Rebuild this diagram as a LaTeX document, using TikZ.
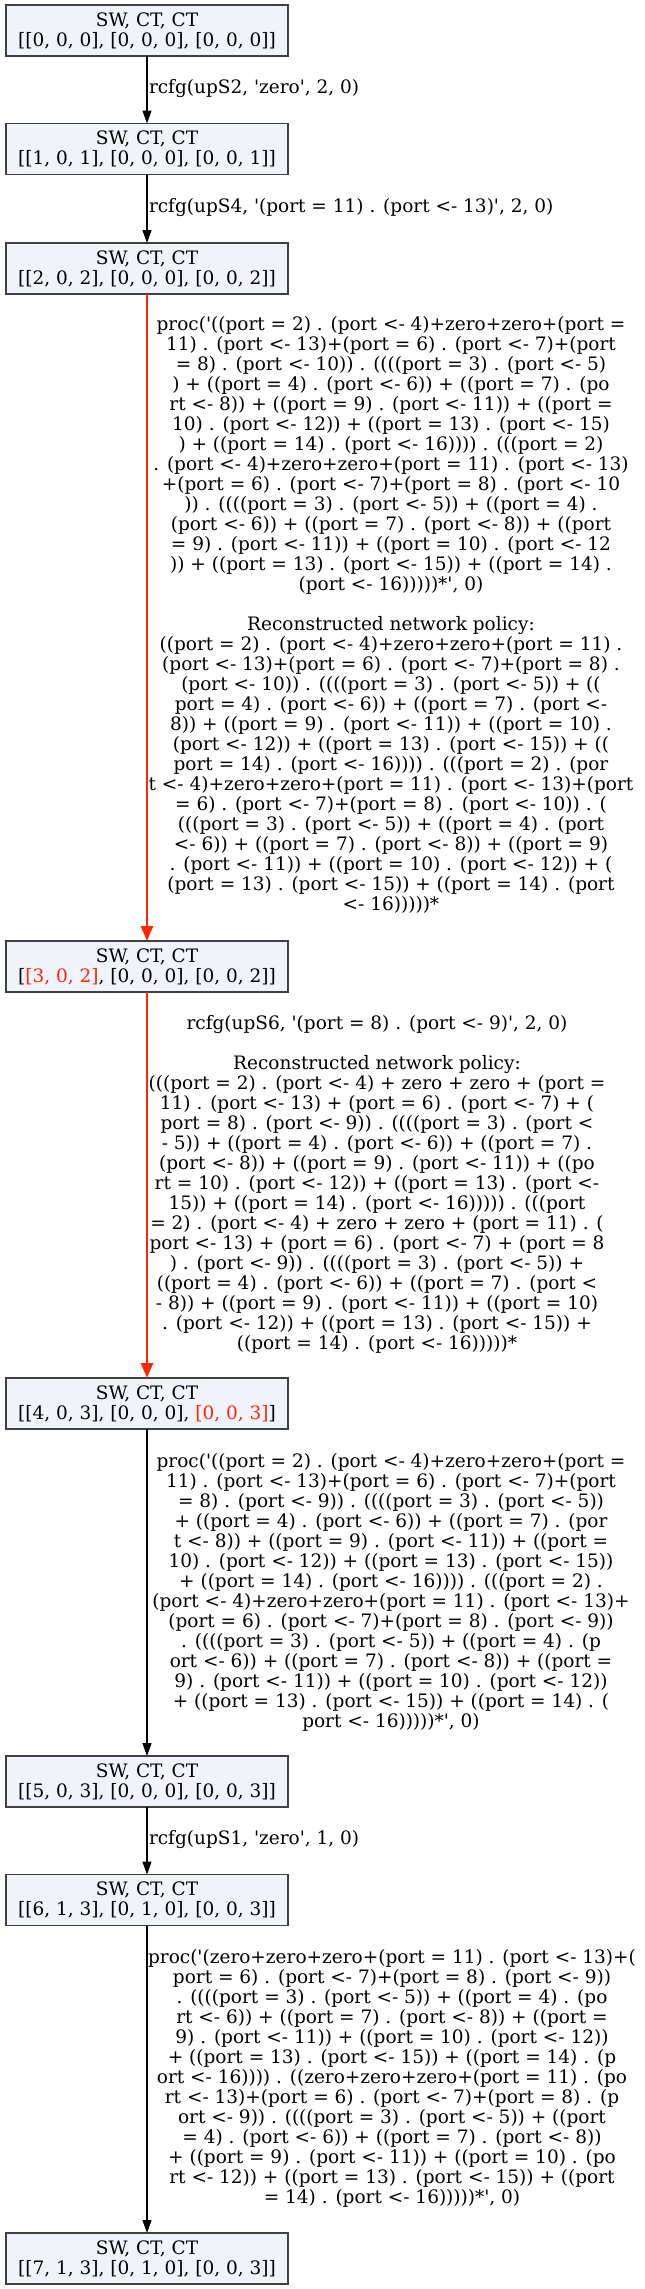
\documentclass[tikz,border=0pt]{standalone}
\usepackage{fontspec}
\newfontfamily\gv{DejaVu Serif}
\usetikzlibrary{arrows.meta}
\definecolor{hl}{RGB}{255,38,8}
\definecolor{nodefill}{RGB}{240,243,250}
\definecolor{nodeline}{RGB}{64,64,64}
\tikzset{
  x=1pt, y=1pt,
  every node/.style={font=\gv\fontsize{18.5}{20}\selectfont, inner sep=0pt, outer sep=0pt},
  state/.style={draw=nodeline, line width=1.3pt, fill=nodefill, minimum width=282pt, minimum height=51pt, align=center},
  lbl/.style={align=center},
  plainedge/.style={draw=black, line width=1.2pt, -{Triangle[length=13pt,width=9pt]}},
  hledge/.style={draw=hl, line width=2.7pt, -{Triangle[length=15pt,width=12pt]}}
}
\begin{document}
\begin{tikzpicture}
\useasboundingbox (0,0) rectangle (645,-2289);
\fill[white] (0,0) rectangle (645,-2289);

\node[state] (n1) at (147,-30.5) {SW, CT, CT\\{[[}0, 0, 0], [0, 0, 0], [0, 0, 0]]};
\node[state] (n2) at (147,-149) {SW, CT, CT\\{[[}1, 0, 1], [0, 0, 0], [0, 0, 1]]};
\node[state] (n3) at (147,-268.5) {SW, CT, CT\\{[[}2, 0, 2], [0, 0, 0], [0, 0, 2]]};
\node[state] (n4) at (147,-966.5) {SW, CT, CT\\{[}\textcolor{hl}{[3, 0, 2]}, [0, 0, 0], [0, 0, 2]]};
\node[state] (n5) at (147,-1403.5) {SW, CT, CT\\{[[}4, 0, 3], [0, 0, 0], \textcolor{hl}{[0, 0, 3]}]};
\node[state] (n6) at (147,-1781.5) {SW, CT, CT\\{[[}5, 0, 3], [0, 0, 0], [0, 0, 3]]};
\node[state] (n7) at (147,-1900) {SW, CT, CT\\{[[}6, 1, 3], [0, 1, 0], [0, 0, 3]]};
\node[state] (n8) at (147,-2258.5) {SW, CT, CT\\{[[}7, 1, 3], [0, 1, 0], [0, 0, 3]]};

\draw[plainedge] (n1.south) -- (n2.north);
\draw[plainedge] (n2.south) -- (n3.north);
\draw[hledge] (n3.south) -- (n4.north);
\draw[hledge] (n4.south) -- (n5.north);
\draw[plainedge] (n5.south) -- (n6.north);
\draw[plainedge] (n6.south) -- (n7.north);
\draw[plainedge] (n7.south) -- (n8.north);

\node[lbl, anchor=west] (l12) at (149,-89) {rcfg(upS2, 'zero', 2, 0)};
\node[lbl, anchor=west] (l23) at (149,-208) {rcfg(upS4, '(port = 11) . (port <- 13)', 2, 0)};

\node[lbl] (l34) at (391,-615) {proc('((port = 2) . (port <- 4)+zero+zero+(port =\\
11) . (port <- 13)+(port = 6) . (port <- 7)+(port\\
= 8) . (port <- 10)) . ((((port = 3) . (port <- 5)\\
) + ((port = 4) . (port <- 6)) + ((port = 7) . (po\\
rt <- 8)) + ((port = 9) . (port <- 11)) + ((port =\\
10) . (port <- 12)) + ((port = 13) . (port <- 15)\\
) + ((port = 14) . (port <- 16)))) . (((port = 2)\\
. (port <- 4)+zero+zero+(port = 11) . (port <- 13)\\
+(port = 6) . (port <- 7)+(port = 8) . (port <- 10\\
)) . ((((port = 3) . (port <- 5)) + ((port = 4) .\\
(port <- 6)) + ((port = 7) . (port <- 8)) + ((port\\
= 9) . (port <- 11)) + ((port = 10) . (port <- 12\\
)) + ((port = 13) . (port <- 15)) + ((port = 14) .\\
(port <- 16)))))*', 0)\\
\mbox{}\\
Reconstructed network policy:\\
((port = 2) . (port <- 4)+zero+zero+(port = 11) .\\
(port <- 13)+(port = 6) . (port <- 7)+(port = 8) .\\
(port <- 10)) . ((((port = 3) . (port <- 5)) + ((\\
port = 4) . (port <- 6)) + ((port = 7) . (port <-\\
8)) + ((port = 9) . (port <- 11)) + ((port = 10) .\\
(port <- 12)) + ((port = 13) . (port <- 15)) + ((\\
port = 14) . (port <- 16)))) . (((port = 2) . (por\\
t <- 4)+zero+zero+(port = 11) . (port <- 13)+(port\\
= 6) . (port <- 7)+(port = 8) . (port <- 10)) . (\\
(((port = 3) . (port <- 5)) + ((port = 4) . (port\\
<- 6)) + ((port = 7) . (port <- 8)) + ((port = 9)\\
. (port <- 11)) + ((port = 10) . (port <- 12)) + (\\
(port = 13) . (port <- 15)) + ((port = 14) . (port\\
<- 16)))))*};

\node[lbl] (l45) at (377,-1184) {rcfg(upS6, '(port = 8) . (port <- 9)', 2, 0)\\
\mbox{}\\
Reconstructed network policy:\\
(((port = 2) . (port <- 4) + zero + zero + (port =\\
11) . (port <- 13) + (port = 6) . (port <- 7) + (\\
port = 8) . (port <- 9)) . ((((port = 3) . (port <\\
- 5)) + ((port = 4) . (port <- 6)) + ((port = 7) .\\
(port <- 8)) + ((port = 9) . (port <- 11)) + ((po\\
rt = 10) . (port <- 12)) + ((port = 13) . (port <-\\
15)) + ((port = 14) . (port <- 16))))) . (((port\\
= 2) . (port <- 4) + zero + zero + (port = 11) . (\\
port <- 13) + (port = 6) . (port <- 7) + (port = 8\\
) . (port <- 9)) . ((((port = 3) . (port <- 5)) +\\
((port = 4) . (port <- 6)) + ((port = 7) . (port <\\
- 8)) + ((port = 9) . (port <- 11)) + ((port = 10)\\
. (port <- 12)) + ((port = 13) . (port <- 15)) +\\
((port = 14) . (port <- 16)))))*};

\node[lbl] (l56) at (391,-1592) {proc('((port = 2) . (port <- 4)+zero+zero+(port =\\
11) . (port <- 13)+(port = 6) . (port <- 7)+(port\\
= 8) . (port <- 9)) . ((((port = 3) . (port <- 5))\\
+ ((port = 4) . (port <- 6)) + ((port = 7) . (por\\
t <- 8)) + ((port = 9) . (port <- 11)) + ((port =\\
10) . (port <- 12)) + ((port = 13) . (port <- 15))\\
+ ((port = 14) . (port <- 16)))) . (((port = 2) .\\
(port <- 4)+zero+zero+(port = 11) . (port <- 13)+\\
(port = 6) . (port <- 7)+(port = 8) . (port <- 9))\\
. ((((port = 3) . (port <- 5)) + ((port = 4) . (p\\
ort <- 6)) + ((port = 7) . (port <- 8)) + ((port =\\
9) . (port <- 11)) + ((port = 10) . (port <- 12))\\
+ ((port = 13) . (port <- 15)) + ((port = 14) . (\\
port <- 16)))))*', 0)};

\node[lbl, anchor=west] (l67) at (149,-1840) {rcfg(upS1, 'zero', 1, 0)};

\node[lbl] (l78) at (392,-2078) {proc('(zero+zero+zero+(port = 11) . (port <- 13)+(\\
port = 6) . (port <- 7)+(port = 8) . (port <- 9))\\
. ((((port = 3) . (port <- 5)) + ((port = 4) . (po\\
rt <- 6)) + ((port = 7) . (port <- 8)) + ((port =\\
9) . (port <- 11)) + ((port = 10) . (port <- 12))\\
+ ((port = 13) . (port <- 15)) + ((port = 14) . (p\\
ort <- 16)))) . ((zero+zero+zero+(port = 11) . (po\\
rt <- 13)+(port = 6) . (port <- 7)+(port = 8) . (p\\
ort <- 9)) . ((((port = 3) . (port <- 5)) + ((port\\
= 4) . (port <- 6)) + ((port = 7) . (port <- 8))\\
+ ((port = 9) . (port <- 11)) + ((port = 10) . (po\\
rt <- 12)) + ((port = 13) . (port <- 15)) + ((port\\
= 14) . (port <- 16)))))*', 0)};
\end{tikzpicture}
\end{document}
